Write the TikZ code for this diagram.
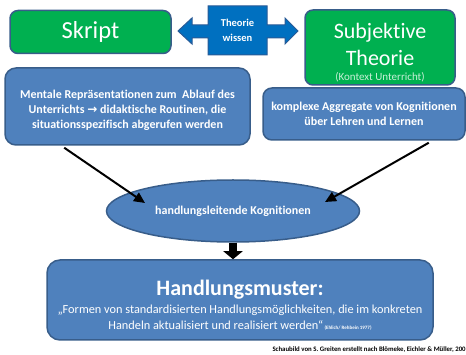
\documentclass[tikz,border=0pt]{standalone}
\usepackage{fontspec}
\setmainfont{Carlito}[Ligatures=NoCommon]
\newfontfamily\arrowfont{DejaVu Sans}
\usetikzlibrary{arrows.meta,shapes.geometric,calc}

\definecolor{boxgreen}{RGB}{0,176,80}
\definecolor{boxblue}{RGB}{79,129,189}
\definecolor{boxline}{RGB}{56,93,138}
\definecolor{arrowblue}{RGB}{0,112,192}
\definecolor{arrowline}{RGB}{40,90,150}
\definecolor{kontext}{RGB}{200,240,215}

\tikzset{every picture/.style={line width=0.75pt}}
\tikzset{
  greenbox/.style={draw=boxline, line width=1.5pt, fill=boxgreen, rounded corners=8pt,
    text=white, align=center, inner sep=0pt},
  bluebox/.style={draw=boxline, line width=1.5pt, fill=boxblue, rounded corners=11pt,
    text=white, align=center, inner sep=0pt, font=\bfseries\fontsize{12}{15}\selectfont},
  linkarrow/.style={line width=2pt, -{Triangle[length=11pt,width=10pt]}},
}

\begin{document}
\begin{tikzpicture}[x=1pt,y=1pt,yscale=-1,xscale=1]
		\useasboundingbox (0,0) rectangle (466,355);

		%Shape: Rounded Rectangle [Skript]
		\node[greenbox, minimum width=161, minimum height=43, font=\fontsize{24.5}{28}\selectfont] (skript) at (90.5,32) {Skript};
		%Shape: Rounded Rectangle [Subjektive Theorie]
		\node[greenbox, minimum width=150, minimum height=75, font=\fontsize{22}{27}\selectfont] (subjektive) at (380,47.5)
			{\rule{0pt}{25pt}Subjektive\\Theorie\\[-12pt]{\fontsize{11}{12}\selectfont\color{kontext}(Kontext Unterricht)}};

		%Shape: Left Right Arrow Callout
		\draw [draw=arrowline, fill=arrowblue, line width=1pt] (178,31) -- (192,18) -- (192,25) -- (208,25) -- (208,6) -- (267,6) -- (267,25) -- (285,25) -- (285,18) -- (298,31) -- (285,44) -- (285,38) -- (267,38) -- (267,55) -- (208,55) -- (208,38) -- (192,38) -- (192,44) -- cycle ;
		\node[text=white, align=center, font=\bfseries\fontsize{10.5}{15}\selectfont] (wissen) at (237.5,30.5) {Theorie\\wissen};

		%Shape: Rounded Rectangle [Mentale]
		\node[bluebox, minimum width=245, minimum height=77] (mentale) at (127.5,106.5)
			{\rule{0pt}{17pt}Mentale Repräsentationen zum\ \ Ablauf des\\Unterrichts {\arrowfont\bfseries →} didaktische Routinen, die\\situationsspezifisch abgerufen werden};
		%Shape: Rounded Rectangle [komplexe]
		\node[bluebox, minimum width=202, minimum height=52, rounded corners=9pt] (komplexe) at (364,114)
			{komplexe Aggregate von Kognitionen\\über Lehren und Lernen};

		%Shape: Ellipse
		\node[ellipse, draw=boxline, line width=1.5pt, fill=boxblue, minimum width=253, minimum height=62, inner sep=0pt,
			text=white, font=\bfseries\fontsize{12}{14}\selectfont] (kognitionen) at (233,211) {handlungsleitende Kognitionen};

		%Shape: Rounded Rectangle [Handlungsmuster]
		\node[bluebox, minimum width=386, minimum height=80, rounded corners=13pt, font=\fontsize{12.3}{16}\selectfont] (muster) at (240,300)
			{{\bfseries\fontsize{22}{24}\selectfont\rule{0pt}{26pt}Handlungsmuster:}\\[2pt]
			„Formen von standardisierten Handlungsmöglichkeiten, die im konkreten\\
			Handeln aktualisiert und realisiert werden“{\bfseries\fontsize{5}{5}\selectfont\ (Ehlich/ Rehbein 1977)}};

		%Straight Lines
		\coordinate (mentaleout) at ($(mentale.south west)+(60,2)$);
		\coordinate (kognitionenleft) at ($(kognitionen.center)+(-88,-8)$);
		\draw[linkarrow] (mentaleout) -- (kognitionenleft);
		\coordinate (komplexeout) at ($(komplexe.south east)+(-37,2)$);
		\coordinate (kognitionenright) at ($(kognitionen.center)+(92,-9)$);
		\draw[linkarrow] (komplexeout) -- (kognitionenright);

		%Shape: Down Arrow
		\draw[line width=8pt, -{Triangle[length=8pt,width=19pt]}] (kognitionen.south) -- (kognitionen.south |- muster.north);

		%Text
		\node[anchor=east, inner sep=0pt, font=\bfseries\fontsize{6.8}{7}\selectfont] (quelle) at (466,350)
			{Schaubild von S. Greiten erstellt nach Blömeke, Eichler \& Müller, 200};

\end{tikzpicture}
\end{document}
